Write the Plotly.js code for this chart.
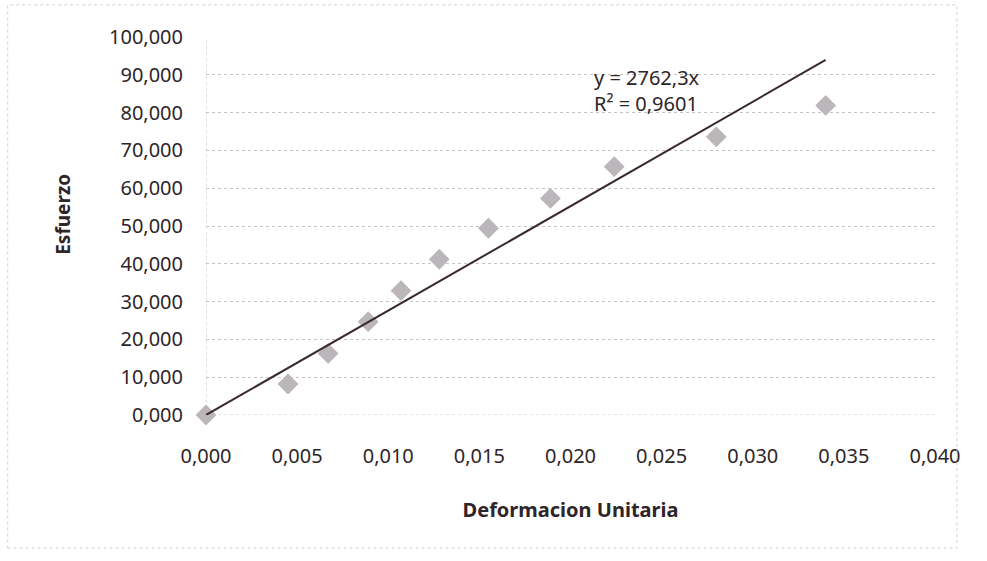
<!DOCTYPE html>
<html>
<head>
<meta charset="utf-8">
<script src="https://cdn.plot.ly/plotly-3.0.1.min.js"></script>
<style>html,body{margin:0;padding:0;background:#fff;}#chart{width:987px;height:561px;}</style>
</head>
<body>
<div id="chart"></div>
<script>
// Data
const deformacion = [0.0000, 0.0045, 0.0067, 0.0089, 0.0107, 0.0128, 0.0155, 0.0189, 0.0224, 0.0280, 0.0340];
const esfuerzo    = [0.0, 8.2, 16.3, 24.7, 32.9, 41.2, 49.4, 57.3, 65.7, 73.6, 81.9];
const slope = 2762.3;
const equationText = "y = 2762,3x<br>R² = 0,9601";
const xTitle = "Deformacion Unitaria";
const yTitle = "Esfuerzo";
const xTicks = [0, 0.005, 0.010, 0.015, 0.020, 0.025, 0.030, 0.035, 0.040];
const yTicks = [0, 10, 20, 30, 40, 50, 60, 70, 80, 90, 100];

const xMax = Math.max(...deformacion);
const trendX = [0, xMax];
const trendY = trendX.map(x => slope * x);

const txtColor = '#2e2529';
const fontFam = 'Noto Sans, Open Sans, sans-serif';
const data = [
  {
    x: deformacion, y: esfuerzo, type: 'scatter', mode: 'markers',
    marker: {symbol: 'diamond', size: 16, color: '#bab6ba', line: {width: 0}},
    cliponaxis: false, hoverinfo: 'x+y', showlegend: false
  },
  {
    x: trendX, y: trendY, type: 'scatter', mode: 'lines',
    line: {color: '#3a2a2c', width: 2}, cliponaxis: false, showlegend: false
  }
];

const layout = {
  width: 987, height: 561,
  margin: {l: 206, r: 52, t: 37, b: 146},
  paper_bgcolor: '#ffffff', plot_bgcolor: '#ffffff',
  separators: ',.',
  font: {family: fontFam, color: txtColor, size: 19},
  xaxis: {
    range: [0, 0.040], tickvals: xTicks, tickformat: '.3f',
    showgrid: false, zeroline: false, showline: false,
    ticks: '', ticklen: 0, ticklabelstandoff: 27,
    tickfont: {family: fontFam, size: 20, color: txtColor},
    title: {text: '<b>' + xTitle + '</b>', font: {family: fontFam, size: 20, color: txtColor}, standoff: 34}
  },
  yaxis: {
    range: [0, 100], tickvals: yTicks, tickformat: '.3f',
    showgrid: true, gridcolor: '#c4c4c4', griddash: 'dot', gridwidth: 1,
    zeroline: false, showline: false, ticks: '', ticklabelstandoff: 22,
    tickfont: {family: fontFam, size: 20, color: txtColor}
  },
  shapes: [
    {type: 'line', xref: 'x', yref: 'paper', x0: 0, x1: 0, y0: 0, y1: 1, layer: 'below',
     line: {color: '#c4c4c4', width: 1, dash: 'dot'}},
    {type: 'line', xref: 'paper', yref: 'y', x0: 0, x1: 1, y0: 0, y1: 0, layer: 'below',
     line: {color: '#c4c4c4', width: 1, dash: 'dot'}},
    {type: 'rect', xref: 'paper', yref: 'paper', x0: -0.272, x1: 1.03, y0: -0.352, y1: 1.085,
     line: {color: '#d2d2d2', width: 1, dash: 'dot'}}
  ],
  annotations: [
    {x: 0.0212, y: 93.5, xref: 'x', yref: 'y', xanchor: 'left', yanchor: 'top', align: 'left',
     text: equationText, showarrow: false, font: {family: fontFam, size: 20, color: txtColor}},
    {x: -0.196, y: 53, xref: 'paper', yref: 'y', xanchor: 'center', yanchor: 'middle',
     textangle: -90, text: '<b>' + yTitle + '</b>', showarrow: false,
     font: {family: fontFam, size: 19, color: txtColor}}
  ]
};

Plotly.newPlot('chart', data, layout, {displayModeBar: false, staticPlot: true});
</script>
</body>
</html>
